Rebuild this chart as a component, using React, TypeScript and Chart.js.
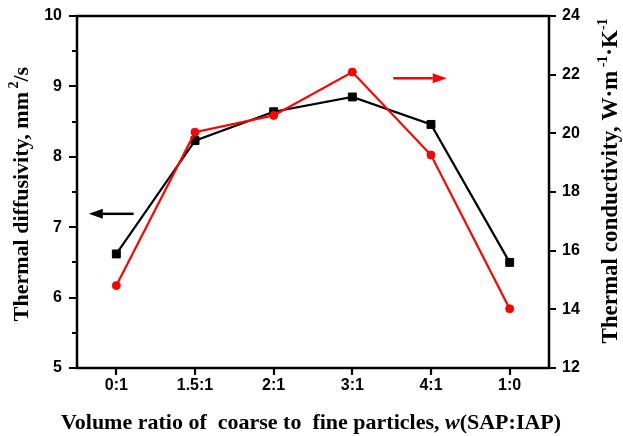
import React, { useEffect, useRef } from 'react';
import { Chart, registerables } from 'chart.js';

Chart.register(...registerables);

const categories = ['0:1', '1.5:1', '2:1', '3:1', '4:1', '1:0'];
const diffusivity = [6.62, 8.23, 8.64, 8.85, 8.46, 6.5];
const conductivity = [14.81, 20.04, 20.61, 22.09, 19.26, 14.02];
const leftRange = [5, 10];
const rightRange = [12, 24];
// arrows: [xStartIndex, xEndIndex(tip), value]
const blackArrow = [0.22, -0.35, 7.19];
const redArrow = [3.52, 4.2, 21.88];

const SERIF = '"Liberation Serif", "Times New Roman", serif';
const XT_FONT = `bold 22px ${SERIF}`;
const XT_FONT_IT = `italic bold 22px ${SERIF}`;
const YL_FONT = `bold 22px ${SERIF}`;
const YR_FONT = `bold 23px ${SERIF}`;
const SUP_FONT = `bold 14px ${SERIF}`;

type Seg = { t: string; f: string; dy?: number };

function drawSegs(ctx: CanvasRenderingContext2D, segs: Seg[], cx: number, cy: number, rot: number) {
  ctx.save();
  ctx.translate(cx, cy);
  ctx.rotate(rot);
  let total = 0;
  for (const s of segs) {
    ctx.font = s.f;
    total += ctx.measureText(s.t).width;
  }
  let x = -total / 2;
  ctx.fillStyle = '#000';
  ctx.textBaseline = 'middle';
  ctx.textAlign = 'left';
  for (const s of segs) {
    ctx.font = s.f;
    ctx.fillText(s.t, x, s.dy || 0);
    x += ctx.measureText(s.t).width;
  }
  ctx.restore();
}

function arrow(ctx: CanvasRenderingContext2D, x1: number, x2: number, y: number, color: string) {
  ctx.save();
  ctx.strokeStyle = color;
  ctx.fillStyle = color;
  ctx.lineWidth = 2.5;
  const dir = x2 > x1 ? 1 : -1;
  const head = 14;
  ctx.beginPath();
  ctx.moveTo(x1, y);
  ctx.lineTo(x2 - dir * head, y);
  ctx.stroke();
  ctx.beginPath();
  ctx.moveTo(x2, y);
  ctx.lineTo(x2 - dir * head, y - 5);
  ctx.lineTo(x2 - dir * head, y + 5);
  ctx.closePath();
  ctx.fill();
  ctx.restore();
}

const decor = {
  id: 'decor',
  afterDatasetsDraw(chart: any) {
    const ctx = chart.ctx as CanvasRenderingContext2D;
    const a = chart.chartArea;
    const xs = chart.scales.x;
    const yl = chart.scales.yL;
    const yr = chart.scales.yR;
    ctx.save();
    ctx.strokeStyle = '#000';
    ctx.lineWidth = 2.5;
    ctx.strokeRect(a.left, a.top, a.right - a.left, a.bottom - a.top);
    ctx.lineWidth = 2.2;
    ctx.beginPath();
    for (let v = leftRange[0]; v <= leftRange[1] + 1e-9; v += 0.5) {
      const y = Math.round(yl.getPixelForValue(v));
      const len = Math.abs(v - Math.round(v)) < 1e-6 ? 8 : 5;
      ctx.moveTo(a.left - len, y);
      ctx.lineTo(a.left, y);
    }
    for (let v = rightRange[0]; v <= rightRange[1] + 1e-9; v += 2) {
      const y = Math.round(yr.getPixelForValue(v));
      ctx.moveTo(a.right, y);
      ctx.lineTo(a.right + 7, y);
    }
    for (let i = 0; i < categories.length; i++) {
      const x = Math.round(xs.getPixelForValue(i));
      ctx.moveTo(x, a.bottom);
      ctx.lineTo(x, a.bottom + 7);
    }
    ctx.stroke();
    ctx.restore();

    arrow(ctx, xs.getPixelForValue(blackArrow[0]), xs.getPixelForValue(blackArrow[1]), yl.getPixelForValue(blackArrow[2]), '#000');
    arrow(ctx, xs.getPixelForValue(redArrow[0]), xs.getPixelForValue(redArrow[1]), yr.getPixelForValue(redArrow[2]), '#ff0000');

    drawSegs(ctx, [
      { t: 'Volume ratio of  coarse to  fine particles, ', f: XT_FONT },
      { t: 'w', f: XT_FONT_IT },
      { t: '(SAP:IAP)', f: XT_FONT },
    ], 311, 423, 0);
    drawSegs(ctx, [
      { t: 'Thermal diffusivity, mm', f: YL_FONT },
      { t: ' 2', f: SUP_FONT, dy: -8 },
      { t: '/s', f: YL_FONT },
    ], 22, 194, -Math.PI / 2);
    drawSegs(ctx, [
      { t: 'Thermal conductivity, W\u00b7m', f: YR_FONT },
      { t: ' -1', f: SUP_FONT, dy: -8 },
      { t: '\u00b7K', f: YR_FONT },
      { t: '-1', f: SUP_FONT, dy: -8 },
    ], 611, 181, -Math.PI / 2);
  },
};

const TICK_FONT = { family: '"Liberation Sans", Arial, sans-serif', size: 16, weight: 'bold' as const };

const fixY = (w: number) => (s: any) => {
  s.width = w;
  s.paddingTop = 0;
  s.paddingBottom = 0;
};

export default function App() {
  const ref = useRef<HTMLCanvasElement>(null);
  useEffect(() => {
    if (!ref.current) return;
    const chart = new Chart(ref.current, {
      type: 'line',
      data: {
        labels: categories,
        datasets: [
          {
            label: 'Thermal conductivity',
            data: conductivity,
            yAxisID: 'yR',
            borderColor: '#ff0000',
            backgroundColor: '#ff0000',
            borderWidth: 2.2,
            pointStyle: 'circle',
            pointRadius: 4,
            pointBorderWidth: 1,
            order: 1,
          },
          {
            label: 'Thermal diffusivity',
            data: diffusivity,
            yAxisID: 'yL',
            borderColor: '#000',
            backgroundColor: '#000',
            borderWidth: 2.2,
            pointStyle: 'rect',
            pointRadius: 5.6,
            pointBorderWidth: 1,
            order: 2,
          },
        ],
      },
      options: {
        responsive: false,
        animation: false,
        layout: { padding: { top: 16, left: 0, right: 0, bottom: 0 } },
        plugins: { legend: { display: false }, tooltip: { enabled: false } },
        scales: {
          x: {
            offset: true,
            grid: { display: false, drawTicks: false },
            border: { display: false },
            ticks: { color: '#000', font: TICK_FONT, padding: 8, maxRotation: 0 },
            afterFit: (s: any) => { s.height = 68; s.paddingLeft = 0; s.paddingRight = 0; },
          },
          yL: {
            position: 'left',
            min: leftRange[0],
            max: leftRange[1],
            grid: { display: false, drawTicks: false },
            border: { display: false },
            ticks: { stepSize: 1, color: '#000', font: TICK_FONT, padding: 15 },
            afterFit: fixY(77),
          },
          yR: {
            position: 'right',
            min: rightRange[0],
            max: rightRange[1],
            grid: { display: false, drawTicks: false },
            border: { display: false },
            ticks: { stepSize: 2, color: '#000', font: TICK_FONT, padding: 13 },
            afterFit: fixY(74),
          },
        },
      },
      plugins: [decor],
    });
    return () => chart.destroy();
  }, []);
  return (
    <div style={{ position: 'absolute', left: 0, top: 0, width: 623, height: 436, background: '#fff' }}>
      <canvas ref={ref} width={623} height={436} style={{ width: 623, height: 436 }} />
    </div>
  );
}
